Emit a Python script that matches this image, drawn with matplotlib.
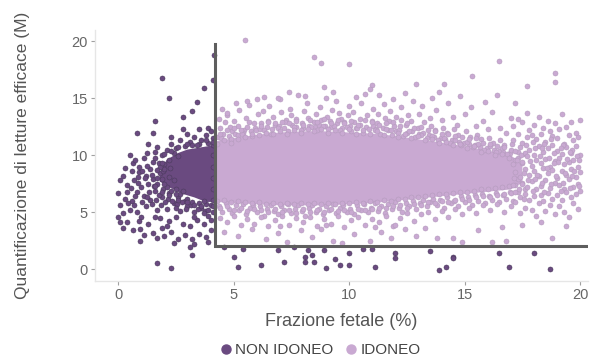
import matplotlib
matplotlib.use('Agg')
import matplotlib.pyplot as plt
from matplotlib.lines import Line2D

plt.rcParams['font.family'] = ['Liberation Sans', 'DejaVu Sans']

# colori
dark = '#6a4a80'
dark_edge = '#4a3a5c'
light = '#c9a9d2'
light_edge = '#b49abd'

# soglie
ff_cut = 4.2
reads_cut = 2.0

# zona densa (nuvola piena) dei due gruppi
non_idoneo_core_x = [1.8, 2.1, 2.6, 3.0, 3.6, 4.2, 4.2, 3.8, 3.3, 2.8, 2.2, 1.8]
non_idoneo_core_y = [8.4, 9.6, 10.2, 10.5, 10.7, 10.9, 5.9, 5.9, 6.3, 6.6, 7.2, 7.7]

idoneo_core_x = [4.2, 5, 6, 7, 8, 9, 10, 11, 12, 13, 14, 15, 16, 17, 17.5,
                 17.5, 17, 16, 15, 14, 13, 12, 11, 10, 9, 8, 7, 6, 5, 4.2]
idoneo_core_y = [11.2, 11.5, 11.8, 12.0, 12.1, 12.1, 12.0, 11.9, 11.7, 11.4, 11.1, 10.8, 10.4, 10.0, 9.2,
                 7.6, 7.0, 6.8, 6.6, 6.4, 6.2, 6.0, 5.8, 5.7, 5.6, 5.6, 5.6, 5.7, 5.8, 5.9]

# NON IDONEO: punti sparsi
non_idoneo_upper = [(1.9, 16.8), (2.2, 15.0), (4.15, 18.8), (4.1, 16.6), (3.7, 15.9), (3.4, 14.7),
                    (3.2, 13.9), (2.8, 13.4), (1.6, 13.0), (0.8, 12.0), (1.5, 12.0), (2.3, 11.6),
                    (2.8, 12.3), (3.0, 11.9), (3.5, 12.3), (3.9, 12.4), (1.7, 10.7), (1.1, 9.8),
                    (1.9, 10.0), (2.3, 11.0), (2.7, 11.3), (3.3, 11.6), (3.6, 11.3), (4.0, 12.1),
                    (3.8, 11.8), (4.1, 11.5), (3.1, 11.2), (2.5, 10.6), (1.3, 11.0), (0.5, 10.0)]

non_idoneo_left = [(0.3, 8.9), (0.1, 7.8), (0.0, 6.7), (0.2, 4.9), (0.1, 4.1), (0.4, 4.1), (0.65, 3.4),
                   (0.95, 3.5), (0.95, 2.5), (1.5, 3.2), (0.65, 9.3), (0.75, 9.6), (1.25, 10.2),
                   (0.2, 8.2), (0.4, 7.4), (0.3, 6.2), (0.1, 5.6), (0.5, 5.2), (0.6, 6.0), (0.8, 6.8),
                   (0.7, 7.8), (0.9, 8.5), (1.0, 7.2), (1.1, 6.4), (1.2, 5.5), (1.0, 4.6), (1.3, 4.0),
                   (1.4, 8.8), (1.5, 7.9), (1.6, 6.9), (1.4, 6.1), (1.7, 5.2), (1.8, 4.5), (1.9, 3.6),
                   (2.0, 2.9), (2.3, 3.3), (2.6, 2.6), (2.9, 3.0), (3.2, 2.6), (3.5, 3.1), (3.8, 2.8),
                   (4.0, 3.4), (2.2, 4.2), (2.5, 4.6), (2.8, 4.0), (3.1, 3.8), (3.4, 4.3), (3.7, 4.0),
                   (3.9, 4.7), (2.1, 5.3), (2.4, 5.8), (2.7, 5.1), (3.0, 5.5), (3.3, 5.0), (3.6, 5.4),
                   (4.0, 5.6), (1.9, 6.3), (2.2, 6.7), (2.6, 6.3), (2.9, 6.0), (1.7, 7.5), (1.8, 8.4),
                   (2.0, 9.2), (1.5, 9.4), (1.2, 8.2), (0.9, 9.0), (0.6, 8.6), (1.3, 7.5), (1.6, 10.3),
                   (2.1, 10.5), (0.4, 6.8), (0.7, 5.6), (0.9, 4.2), (1.1, 3.0), (1.7, 2.7), (2.4, 2.3),
                   (3.3, 2.2), (3.9, 2.4), (2.1, 3.8), (1.6, 4.6), (0.2, 3.6), (0.0, 4.6), (0.8, 5.0),
                   (0.55, 7.1), (0.85, 7.6), (1.15, 8.0), (1.35, 6.8), (1.55, 7.3), (1.75, 6.5),
                   (1.95, 7.0), (2.15, 6.2), (2.35, 6.0), (2.55, 5.7), (2.75, 5.9), (2.95, 5.3),
                   (3.15, 5.6), (3.45, 5.3), (3.75, 5.1), (1.05, 5.9), (1.25, 6.3), (1.45, 5.7),
                   (1.65, 6.1), (1.85, 5.6), (2.05, 5.9), (0.75, 6.4), (0.45, 5.8), (1.95, 8.6),
                   (1.75, 9.3), (1.45, 8.3), (1.25, 9.1), (1.05, 8.6), (0.85, 8.1), (2.25, 8.9)]

non_idoneo_fringe = [(2.0, 8.8), (2.2, 9.6), (2.4, 10.2), (2.6, 9.9), (2.9, 10.8), (3.2, 10.9), (3.5, 11.0),
                     (3.9, 11.1), (4.1, 10.9), (1.8, 9.0), (1.9, 7.9), (2.1, 7.2), (2.3, 6.9), (2.5, 7.0),
                     (2.7, 6.6), (3.0, 6.2), (3.2, 5.9), (3.5, 5.8), (3.8, 5.7), (4.1, 5.5), (4.1, 6.1),
                     (3.7, 6.0), (2.8, 6.9), (2.2, 8.1), (1.7, 8.7), (1.6, 9.8), (4.0, 4.3), (3.7, 4.9),
                     (3.3, 4.6), (2.5, 5.4), (4.1, 7.0), (4.1, 8.0), (4.1, 9.0), (4.1, 10.0),
                     (1.9, 9.3), (2.0, 10.1), (2.3, 10.4), (2.6, 10.7), (3.0, 11.0), (3.4, 10.9), (3.8, 11.3),
                     (4.1, 11.2), (1.7, 8.0), (1.6, 7.3), (1.9, 6.8), (2.2, 6.5), (2.5, 6.6), (2.6, 6.1),
                     (3.0, 5.9), (3.3, 5.6), (3.6, 5.5), (3.9, 5.2), (4.1, 5.0), (2.4, 7.8), (2.0, 7.5)]

non_idoneo_below = [(1.7, 0.5), (2.3, 0.1), (3.1, 1.9), (3.2, 1.2), (5.4, 1.8), (5.0, 1.1), (5.2, 0.2),
                    (6.2, 0.4), (6.9, 1.7), (7.2, 0.6), (8.1, 1.1), (8.1, 0.6), (8.5, 0.6), (8.4, 1.2),
                    (8.2, 1.7), (8.9, 1.7), (9.0, 0.1), (9.4, 0.9), (9.6, 0.4), (10.0, 0.4), (10.0, 1.4),
                    (10.6, 1.8), (11.0, 1.8), (11.1, 0.2), (12.0, 1.4), (12.0, 1.0), (13.5, 1.6),
                    (13.9, -0.1), (14.2, 0.2), (14.5, 1.1), (14.5, 1.0), (16.5, 1.4), (16.9, 0.2),
                    (18.0, 1.4), (18.7, 0.0), (4.6, 1.9), (7.6, 1.9)]

# IDONEO: punti sparsi
idoneo_top = [(4.32, 11.6), (4.41, 12.4), (4.37, 13.2), (4.55, 11.9), (4.62, 12.9), (4.50, 14.1), (4.78, 11.7),
              (4.85, 12.5), (4.71, 13.5), (4.95, 12.1), (5.06, 11.9), (5.02, 13.0), (5.18, 12.6), (5.25, 14.0),
              (5.21, 11.8), (5.46, 12.2), (5.52, 13.3), (5.41, 12.0), (5.68, 12.9), (5.74, 12.1), (5.66, 14.4),
              (5.93, 12.4), (6.04, 13.6), (5.98, 12.2), (6.19, 12.8), (6.27, 13.9), (6.15, 12.3), (6.45, 12.5),
              (6.52, 14.3), (6.48, 13.0), (6.72, 13.4), (6.68, 12.3), (6.79, 12.7), (6.96, 12.6), (7.05, 13.8),
              (7.01, 14.9), (7.18, 12.4), (7.26, 13.1), (7.22, 12.9), (7.47, 13.5), (7.53, 12.7), (7.44, 14.1),
              (7.71, 12.5), (7.68, 13.2), (7.79, 15.3), (7.97, 12.8), (8.04, 13.9), (8.01, 12.4), (8.23, 13.3),
              (8.17, 14.6), (8.28, 12.6), (8.46, 12.9), (8.55, 13.6), (8.51, 12.5), (8.74, 14.2), (8.69, 12.7),
              (8.78, 13.1), (8.96, 12.6), (9.05, 13.4), (9.02, 15.0), (9.18, 13.0), (9.27, 14.0), (9.23, 12.5),
              (9.48, 12.8), (9.55, 13.7), (9.44, 14.8), (9.71, 12.4), (9.66, 13.2), (9.78, 12.9), (9.97, 13.5),
              (10.04, 12.6), (10.01, 14.3), (10.22, 12.9), (10.16, 13.8), (10.28, 12.4), (10.46, 13.2),
              (10.53, 14.6), (10.49, 12.7), (10.71, 12.5), (10.76, 13.5), (10.67, 15.4), (10.97, 13.0),
              (11.04, 12.6), (11.02, 14.1), (11.21, 12.8), (11.27, 13.6), (11.16, 12.3), (11.46, 12.4),
              (11.55, 13.3), (11.51, 14.5), (11.72, 13.0), (11.68, 12.2), (11.77, 13.9), (11.96, 12.6),
              (12.05, 13.4), (12.01, 12.1), (12.18, 12.2), (12.26, 14.2), (12.23, 13.1), (12.47, 12.7),
              (12.55, 13.5), (12.51, 12.0), (12.72, 12.1), (12.68, 13.0), (12.77, 14.8), (12.97, 12.4),
              (13.04, 11.9), (13.02, 13.6), (13.21, 12.0), (13.26, 12.9), (13.17, 14.3), (13.46, 11.8),
              (13.55, 12.6), (13.51, 13.3), (13.72, 12.2), (13.67, 11.6), (13.78, 14.0), (13.97, 11.5),
              (14.05, 12.4), (14.01, 13.1), (14.22, 12.0), (14.17, 11.4), (14.27, 14.6), (14.46, 11.3),
              (14.53, 12.3), (14.49, 13.4), (14.71, 11.8), (14.76, 11.2), (14.67, 12.7), (14.96, 11.1),
              (15.05, 12.1), (15.02, 13.6), (15.22, 11.6), (15.17, 11.0), (15.27, 14.2), (15.46, 10.9),
              (15.53, 11.8), (15.49, 12.6), (15.72, 11.4), (15.66, 10.7), (15.78, 13.0), (15.96, 10.6),
              (16.04, 11.5), (16.01, 12.3), (16.21, 11.1), (16.26, 10.5), (16.17, 13.8), (16.47, 10.4),
              (16.54, 11.3), (16.51, 12.4), (16.72, 10.9), (16.68, 10.3), (16.77, 12.0), (16.97, 10.2),
              (17.05, 11.0), (17.02, 13.3),
              (4.45, 11.5), (4.9, 11.4), (5.35, 11.9), (5.8, 11.7), (6.3, 12.2), (6.6, 11.9), (6.9, 12.4),
              (7.35, 12.1), (7.6, 12.5), (7.9, 12.2), (8.35, 12.5), (8.6, 12.2), (8.85, 12.6), (9.1, 12.3),
              (9.35, 12.6), (9.6, 12.2), (9.9, 12.5), (10.1, 12.1), (10.35, 12.4), (10.6, 12.0), (10.85, 12.3),
              (11.1, 12.2), (11.35, 11.9), (11.6, 12.3), (11.85, 11.8), (12.1, 12.0), (12.35, 11.7),
              (12.6, 12.1), (12.85, 11.6), (13.1, 11.8), (13.35, 11.5), (13.6, 11.7), (13.85, 11.3),
              (14.1, 11.5), (14.35, 11.1), (14.6, 11.3), (14.85, 10.9), (15.1, 11.2), (15.35, 10.7),
              (15.6, 11.0), (15.85, 10.5), (16.1, 10.8), (16.35, 10.3), (16.6, 10.6), (16.85, 10.1)]

idoneo_top_edge = [(4.3, 11.0), (4.4, 11.9), (4.6, 11.3), (4.7, 12.2), (4.9, 11.1), (5.0, 12.4), (5.2, 11.4),
                   (5.3, 12.2), (5.5, 11.6), (5.6, 12.5), (5.8, 11.9), (5.9, 12.8), (6.1, 11.8), (6.2, 12.6),
                   (6.4, 12.0), (6.5, 12.9), (6.7, 11.9), (6.8, 12.8), (7.0, 12.1), (7.1, 12.9), (7.3, 11.9),
                   (7.4, 12.8), (7.6, 12.2), (7.7, 13.0), (7.9, 12.0), (8.0, 12.7), (8.2, 12.3), (8.3, 13.1),
                   (8.5, 12.1), (8.6, 12.9), (8.8, 12.3), (8.9, 13.2), (9.1, 12.0), (9.2, 12.8), (9.4, 12.2),
                   (9.5, 13.1), (9.7, 12.0), (9.8, 12.8), (10.0, 12.3), (10.1, 13.0), (10.3, 11.9), (10.4, 12.7),
                   (10.6, 12.2), (10.7, 13.1), (10.9, 11.9), (11.0, 12.9), (11.2, 12.1), (11.3, 12.7),
                   (11.5, 11.8), (11.6, 12.8), (11.8, 12.2), (11.9, 12.9), (12.1, 11.6), (12.2, 12.6),
                   (12.4, 11.9), (12.5, 12.8), (12.7, 11.5), (12.8, 12.4), (13.0, 11.7), (13.1, 12.5),
                   (13.3, 11.3), (13.4, 12.2), (13.6, 11.4), (13.7, 12.1), (13.9, 11.1), (14.0, 11.9),
                   (14.2, 11.2), (14.3, 11.9), (14.5, 10.9), (14.6, 11.7), (14.8, 11.0), (14.9, 11.6),
                   (15.1, 10.6), (15.2, 11.4), (15.4, 10.8), (15.5, 11.5), (15.7, 10.3), (15.8, 11.1),
                   (16.0, 10.4), (16.1, 11.0), (16.3, 10.0), (16.4, 10.8), (16.6, 10.1), (16.7, 10.7),
                   (16.9, 9.8), (17.0, 10.5), (17.2, 9.6), (17.3, 10.3), (17.5, 9.3), (17.6, 10.1)]

idoneo_high = [(4.7, 13.7), (5.6, 14.8), (6.3, 15.1), (6.9, 15.0), (5.5, 20.1), (8.5, 18.6), (8.8, 18.1),
               (10.0, 18.0), (16.5, 18.3), (15.3, 17.0), (14.1, 16.3), (18.9, 17.2), (18.9, 16.4),
               (17.7, 16.1), (12.9, 16.3), (7.4, 15.6), (8.1, 15.2), (9.3, 15.6), (10.3, 15.1), (11.3, 15.3),
               (11.9, 14.9), (12.4, 15.5), (13.6, 15.0), (14.8, 15.2), (15.9, 14.7), (16.4, 15.3),
               (17.2, 14.6), (8.9, 16.0), (11.0, 16.2), (13.9, 15.6), (6.0, 14.9), (5.1, 14.6), (10.9, 15.8)]

idoneo_bottom = [(4.35, 5.5), (4.50, 5.0), (4.65, 5.8), (4.80, 5.3), (4.95, 4.9), (5.10, 5.6), (5.25, 5.2),
                 (5.40, 5.7), (5.55, 4.8), (5.70, 5.4), (5.85, 5.6), (6.00, 5.0), (6.15, 5.5), (6.30, 4.7),
                 (6.45, 5.3), (6.60, 5.6), (6.75, 5.1), (6.90, 4.8), (7.05, 5.5), (7.20, 5.2), (7.35, 5.7),
                 (7.50, 4.9), (7.65, 5.3), (7.80, 5.6), (7.95, 5.1), (8.10, 4.7), (8.25, 5.4), (8.40, 5.6),
                 (8.55, 5.0), (8.70, 5.3), (8.85, 4.8), (9.00, 5.5), (9.15, 5.2), (9.30, 5.7), (9.45, 4.9),
                 (9.60, 5.4), (9.75, 5.6), (9.90, 5.0), (10.05, 5.3), (10.20, 4.8), (10.35, 5.6), (10.50, 5.2),
                 (10.65, 5.7), (10.80, 5.0), (10.95, 5.4), (11.10, 5.8), (11.25, 5.1), (11.40, 5.5),
                 (11.55, 4.9), (11.70, 5.7), (11.85, 5.3), (12.00, 5.9), (12.15, 5.4), (12.30, 5.0),
                 (12.45, 5.8), (12.60, 5.5), (12.75, 6.0), (12.90, 5.3), (13.05, 5.8), (13.20, 6.1),
                 (13.35, 5.5), (13.50, 5.9), (13.65, 6.2), (13.80, 5.6), (13.95, 6.1), (14.10, 5.4),
                 (14.25, 6.3), (14.40, 5.8), (14.55, 6.0), (14.70, 5.5), (14.85, 6.4), (15.00, 5.9),
                 (15.15, 6.3), (15.30, 5.6), (15.45, 6.5), (15.60, 6.0), (15.75, 6.6), (15.90, 5.8),
                 (16.05, 6.4), (16.20, 6.1), (16.35, 6.7), (16.50, 5.9), (16.65, 6.5), (16.80, 6.2),
                 (16.95, 6.8), (17.10, 6.0),
                 (4.4, 4.5), (4.7, 4.1), (5.0, 4.7), (5.3, 3.9), (5.6, 4.4), (5.9, 4.0), (6.2, 4.6), (6.5, 3.8),
                 (6.8, 4.3), (7.1, 4.7), (7.4, 3.9), (7.7, 4.5), (8.0, 4.1), (8.3, 4.6), (8.6, 3.8), (8.9, 4.4),
                 (9.2, 4.0), (9.5, 4.7), (9.8, 3.7), (10.1, 4.3), (10.4, 4.6), (10.7, 3.9), (11.0, 4.4),
                 (11.3, 4.1), (11.6, 4.7), (11.9, 3.8), (12.2, 4.5), (12.5, 4.9), (12.8, 4.2), (13.1, 4.8),
                 (13.4, 5.0), (13.7, 4.4), (14.0, 5.1), (14.3, 4.6), (14.6, 5.3), (14.9, 4.8), (15.2, 5.4),
                 (15.5, 4.9), (15.8, 5.6), (16.1, 5.2), (16.4, 5.7), (16.7, 5.0), (17.0, 5.5)]

idoneo_bottom_edge = [(4.3, 6.0), (4.4, 5.4), (4.6, 6.1), (4.7, 5.5), (4.9, 5.9), (5.0, 5.2), (5.2, 6.0),
                      (5.3, 5.4), (5.5, 5.9), (5.6, 5.1), (5.8, 5.8), (5.9, 5.3), (6.1, 5.9), (6.2, 5.2),
                      (6.4, 5.7), (6.5, 5.0), (6.7, 5.8), (6.8, 5.3), (7.0, 5.7), (7.1, 5.0), (7.3, 5.8),
                      (7.4, 5.2), (7.6, 5.7), (7.7, 4.9), (7.9, 5.8), (8.0, 5.3), (8.2, 5.7), (8.3, 5.0),
                      (8.5, 5.8), (8.6, 5.2), (8.8, 5.7), (8.9, 5.0), (9.1, 5.8), (9.2, 5.3), (9.4, 5.7),
                      (9.5, 5.1), (9.7, 5.8), (9.8, 5.2), (10.0, 5.8), (10.1, 5.0), (10.3, 5.9), (10.4, 5.3),
                      (10.6, 5.8), (10.7, 5.2), (10.9, 6.0), (11.0, 5.3), (11.2, 5.9), (11.3, 5.4), (11.5, 6.1),
                      (11.6, 5.4), (11.8, 6.0), (11.9, 5.5), (12.1, 6.2), (12.2, 5.6), (12.4, 6.2), (12.5, 5.4),
                      (12.7, 6.3), (12.8, 5.7), (13.0, 6.3), (13.1, 5.6), (13.3, 6.4), (13.4, 5.9), (13.6, 6.5),
                      (13.7, 5.8), (13.9, 6.6), (14.0, 6.0), (14.2, 6.6), (14.3, 5.9), (14.5, 6.7), (14.6, 6.1),
                      (14.8, 6.8), (14.9, 6.2), (15.1, 6.8), (15.2, 6.1), (15.4, 6.9), (15.5, 6.3), (15.7, 7.0),
                      (15.8, 6.4), (16.0, 7.0), (16.1, 6.3), (16.3, 7.1), (16.4, 6.5), (16.6, 7.2), (16.7, 6.6),
                      (16.9, 7.3), (17.0, 6.7), (17.2, 7.4), (17.3, 6.8), (17.5, 7.6), (17.6, 7.0)]

idoneo_low = [(4.6, 3.3), (5.2, 2.9), (5.8, 3.5), (6.4, 2.6), (6.9, 3.2), (7.3, 2.4), (7.9, 3.4), (8.4, 2.8),
              (8.8, 3.5), (9.3, 2.5), (9.7, 2.3), (10.2, 3.1), (10.9, 2.5), (11.4, 3.3), (11.8, 2.7),
              (12.4, 3.5), (12.9, 2.9), (13.3, 3.6), (13.8, 2.7), (14.5, 2.7), (14.9, 2.4), (15.6, 3.4),
              (16.2, 2.4), (16.6, 3.7), (16.8, 2.5), (17.5, 3.9), (18.3, 4.1), (18.8, 2.7), (19.4, 3.8),
              (7.0, 3.8), (9.0, 3.9), (11.1, 3.7), (12.0, 3.9)]

idoneo_right = [(17.1, 7.4), (17.1, 9.2), (17.1, 11.3), (17.1, 12.6), (17.2, 6.8), (17.2, 8.5), (17.2, 10.4),
                (17.2, 5.9), (17.3, 7.9), (17.3, 9.8), (17.3, 11.9), (17.3, 13.2), (17.4, 6.3), (17.4, 8.1),
                (17.4, 10.7), (17.4, 4.9), (17.5, 7.5), (17.5, 9.4), (17.5, 11.1), (17.5, 12.9), (17.6, 6.6),
                (17.6, 8.8), (17.6, 10.2), (17.6, 5.4), (17.7, 7.2), (17.7, 9.9), (17.7, 11.6), (17.7, 13.7),
                (17.8, 6.1), (17.8, 8.3), (17.8, 10.5), (17.8, 12.2), (17.9, 7.7), (17.9, 9.1), (17.9, 11.8),
                (17.9, 5.2), (18.0, 6.4), (18.0, 8.6), (18.0, 10.0), (18.0, 12.7), (18.1, 7.0), (18.1, 9.6),
                (18.1, 11.4), (18.1, 4.7), (18.2, 5.8), (18.2, 8.2), (18.2, 10.8), (18.2, 13.4), (18.3, 7.3),
                (18.3, 9.3), (18.3, 11.9), (18.3, 6.5), (18.4, 6.0), (18.4, 8.9), (18.4, 10.3), (18.4, 12.4),
                (18.5, 7.8), (18.5, 9.7), (18.5, 11.2), (18.5, 5.1), (18.6, 6.7), (18.6, 8.4), (18.6, 10.6),
                (18.6, 13.0), (18.7, 7.1), (18.7, 9.0), (18.7, 12.1), (18.7, 5.6), (18.8, 6.2), (18.8, 8.7),
                (18.8, 10.9), (18.8, 11.7), (18.9, 7.6), (18.9, 9.5), (18.9, 12.8), (18.9, 4.8), (19.0, 6.5),
                (19.0, 8.0), (19.0, 10.4), (19.0, 11.5), (19.1, 7.4), (19.1, 9.8), (19.1, 12.3), (19.1, 5.5),
                (19.2, 6.1), (19.2, 8.6), (19.2, 10.1), (19.2, 13.6), (19.3, 7.0), (19.3, 9.2), (19.3, 11.0),
                (19.3, 5.0), (19.4, 6.8), (19.4, 8.3), (19.4, 10.7), (19.4, 12.5), (19.5, 7.9), (19.5, 9.4),
                (19.5, 11.8), (19.5, 4.6), (19.6, 6.3), (19.6, 8.8), (19.6, 10.2), (19.6, 12.9), (19.7, 7.2),
                (19.7, 9.6), (19.7, 11.3), (19.7, 5.8), (19.8, 6.6), (19.8, 8.1), (19.8, 10.8), (19.8, 12.0),
                (19.9, 7.5), (19.9, 9.0), (19.9, 11.6), (19.9, 5.3), (20.0, 6.9), (20.0, 8.5), (20.0, 10.0),
                (20.0, 13.1),
                (17.15, 8.0), (17.25, 9.6), (17.35, 7.0), (17.45, 10.0), (17.55, 8.4), (17.65, 10.9),
                (17.75, 7.8), (17.85, 9.5), (17.95, 6.9), (18.05, 10.6), (18.15, 8.3), (18.25, 9.9),
                (18.35, 7.6), (18.45, 11.0), (18.55, 8.9), (18.65, 9.8), (18.75, 7.5), (18.85, 10.2),
                (18.95, 8.2), (19.05, 9.4), (19.15, 6.9), (19.25, 10.9), (19.35, 8.4), (19.45, 9.7),
                (19.55, 7.1), (19.65, 10.5), (19.75, 8.6), (19.85, 9.9), (19.95, 7.3), (18.05, 7.9),
                (18.45, 6.8), (18.85, 9.3), (19.25, 7.6), (19.65, 8.2), (17.55, 6.2), (17.95, 11.2),
                (18.35, 10.6), (18.75, 11.4), (19.15, 10.6), (19.55, 10.3), (19.95, 9.6)]

x_ticks = [0, 5, 10, 15, 20]
y_ticks = [0, 5, 10, 15, 20]


def xy(pts):
    return [p[0] for p in pts], [p[1] for p in pts]


fig = plt.figure(figsize=(5.9, 3.58), dpi=100)
ax = fig.add_axes([0.161, 0.215, 0.836, 0.701])

ax.fill(idoneo_core_x, idoneo_core_y, color=light, lw=0, zorder=2)
ax.fill(non_idoneo_core_x, non_idoneo_core_y, color=dark, lw=0, zorder=2)

for grp in [idoneo_top, idoneo_top_edge, idoneo_high, idoneo_bottom, idoneo_bottom_edge,
            idoneo_low, idoneo_right]:
    gx, gy = xy(grp)
    ax.scatter(gx, gy, s=13, color=light, edgecolors=light_edge, linewidths=0.4, zorder=3)

for grp in [non_idoneo_upper, non_idoneo_left, non_idoneo_fringe, non_idoneo_below]:
    gx, gy = xy(grp)
    ax.scatter(gx, gy, s=13, color=dark, edgecolors=dark_edge, linewidths=0.4, zorder=4)

# linee di soglia
ax.plot([ff_cut, ff_cut, 20.3], [19.8, reads_cut, reads_cut], color='#5e5e5e', lw=2.2,
        solid_joinstyle='miter', zorder=5)

ax.set_xlim(-1.0, 20.35)
ax.set_ylim(-1.05, 21.0)
ax.set_xticks(x_ticks)
ax.set_yticks(y_ticks)
ax.tick_params(length=3, width=0.8, color='#a0a0a0', labelcolor='#666666', labelsize=10.5, pad=2)
for side in ['top', 'right']:
    ax.spines[side].set_visible(False)
for side in ['left', 'bottom']:
    ax.spines[side].set_color('#e6e6e6')
    ax.spines[side].set_linewidth(1.0)

ax.set_xlabel('Frazione fetale (%)', fontsize=13, color='#555555', labelpad=8)
ax.set_ylabel('Quantificazione di letture efficace (M)', fontsize=12.5, color='#555555', labelpad=30)

handles = [Line2D([], [], marker='o', ls='', color=dark, markersize=6.5),
           Line2D([], [], marker='o', ls='', color=light, markersize=6.5)]
fig.legend(handles, ['NON IDONEO', 'IDONEO'], loc='center', bbox_to_anchor=(0.544, 0.022),
           ncol=2, frameon=False, fontsize=11, handlelength=0.6, handletextpad=0.3,
           columnspacing=0.9, labelcolor='#444444')

fig.savefig('out.png', dpi=100)
